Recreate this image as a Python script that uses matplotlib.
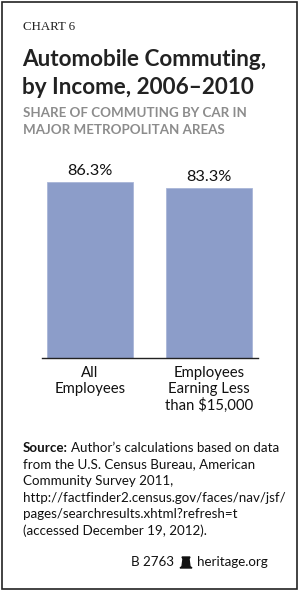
import matplotlib.pyplot as plt
from matplotlib.patches import Rectangle, Polygon

categories = ["All\nEmployees", "Employees\nEarning Less\nthan $15,000"]
shares = [86.3, 83.3]
value_labels = ["86.3%", "83.3%"]

source_lines = [
    "from the U.S. Census Bureau, American",
    "Community Survey 2011,",
    "http://factfinder2.census.gov/faces/nav/jsf/",
    "pages/searchresults.xhtml?refresh=t",
    "(accessed December 19, 2012).",
]

BAR_COLOR = "#8c9dc9"
SANS = "Lato"
BODY = 9.6

fig = plt.figure(figsize=(3.0, 5.91), dpi=100)
W, H = 300, 591


def fy(py):
    # pixel row from top -> figure fraction
    return 1 - py / H


# outer frame
fig.patches.append(Rectangle((1.5 / W, fy(589)), 295.5 / W, 587.5 / H,
                             transform=fig.transFigure, fill=False,
                             edgecolor="#222222", linewidth=1.2))

fig.text(23 / W, fy(27), "CHART 6", family="Liberation Serif", fontsize=9.3,
         va="center", color="#222222")
fig.text(22 / W, fy(60), "Automobile Commuting,", family=SANS, fontsize=16.2,
         fontweight="bold", va="center", color="#222222")
fig.text(22 / W, fy(88), "by Income, 2006\u20132010", family=SANS, fontsize=16.2,
         fontweight="bold", va="center", color="#222222")
fig.text(23 / W, fy(113), "SHARE OF COMMUTING BY CAR IN", family=SANS,
         fontsize=9.6, fontweight="bold", va="center", color="#8c8c8c")
fig.text(23 / W, fy(130), "MAJOR METROPOLITAN AREAS", family=SANS,
         fontsize=9.6, fontweight="bold", va="center", color="#8c8c8c")

# bar chart
ax = fig.add_axes([42 / W, fy(358), 216 / W, 208 / H])
x = range(len(shares))
ax.bar(x, shares, width=0.72, color=BAR_COLOR, edgecolor="#a9b6d8", linewidth=0.6)
for i, (v, lab) in enumerate(zip(shares, value_labels)):
    ax.text(i, v + 2.0, lab, ha="center", va="bottom", family=SANS,
            fontsize=11.7, color="#111111")
ax.set_xlim(-0.403, 1.412)
ax.set_ylim(0, 102)
ax.set_yticks([])
ax.set_xticks(list(x))
ax.set_xticklabels(categories, family=SANS, fontsize=10.7, linespacing=1.13,
                   color="#111111")
ax.tick_params(axis="x", length=0, pad=6)
for side in ("top", "left", "right"):
    ax.spines[side].set_visible(False)
ax.spines["bottom"].set_color("#222222")
ax.spines["bottom"].set_linewidth(1.0)

# source note
renderer = fig.canvas.get_renderer()
src = fig.text(23 / W, fy(448), "Source:", family=SANS, fontsize=BODY,
               fontweight="bold", va="center", color="#111111")
bb = src.get_window_extent(renderer)
fig.text((bb.x1 + 3) / W, fy(448), "Author\u2019s calculations based on data",
         family=SANS, fontsize=BODY, va="center", color="#111111")
for k, line in enumerate(source_lines):
    fig.text(23 / W, fy(464.5 + 16.5 * k), line, family=SANS, fontsize=BODY,
             va="center", color="#111111")

fig.text(174 / W, fy(562), "B 2763", family=SANS, fontsize=BODY, va="center",
         ha="right", color="#111111")
fig.text(197 / W, fy(562), "heritage.org", family=SANS, fontsize=BODY,
         va="center", color="#111111")
# small bell mark
bell = [(180, 568), (182, 566.5), (183, 559), (182, 557), (190, 557), (189, 559),
        (190, 566.5), (192, 568)]
fig.patches.append(Polygon([(px / W, fy(py)) for px, py in bell], closed=True,
                           transform=fig.transFigure, color="#111111"))

fig.savefig("out.png", dpi=100)
